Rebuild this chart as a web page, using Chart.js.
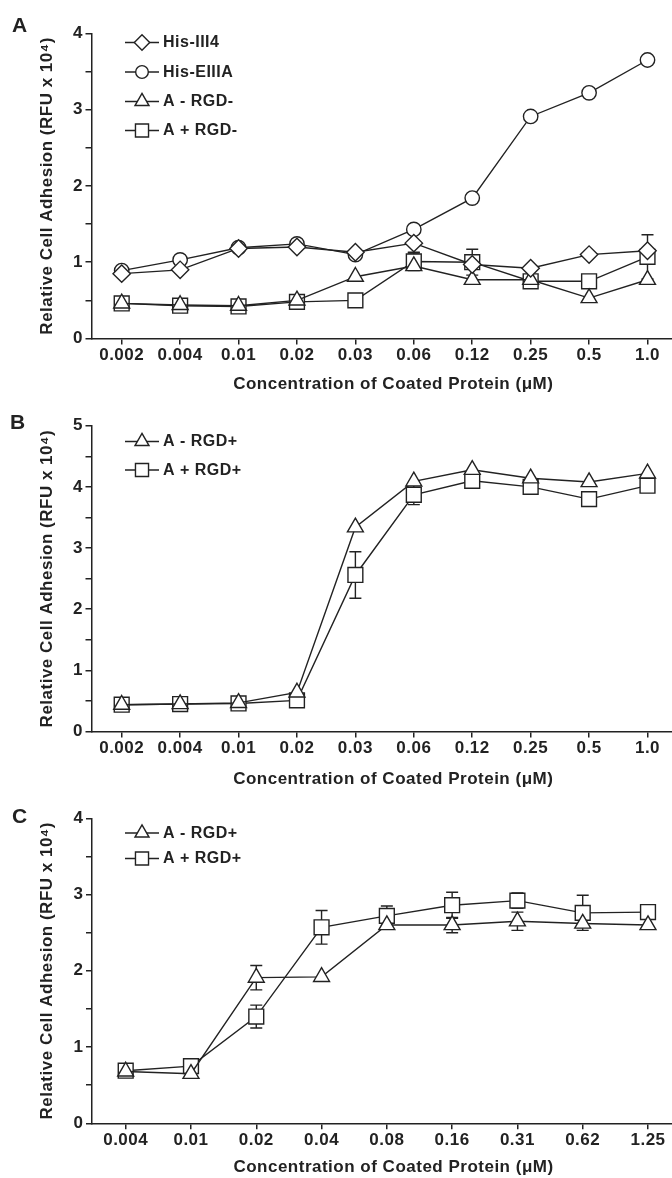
<!DOCTYPE html>
<html><head><meta charset="utf-8">
<script src="https://cdn.jsdelivr.net/npm/chart.js@4/dist/chart.umd.min.js"></script>
<style>
html,body{margin:0;padding:0;background:#fff;width:672px;height:1178px;overflow:hidden;position:relative;}
canvas{position:absolute;left:0;}
</style></head><body>
<canvas id="cA"></canvas><canvas id="cB"></canvas><canvas id="cC"></canvas>
<script>
// ---------- DATA ----------
const catsAB = ['0.002','0.004','0.01','0.02','0.03','0.06','0.12','0.25','0.5','1.0'];
const catsC  = ['0.004','0.01','0.02','0.04','0.08','0.16','0.31','0.62','1.25'];

// Panel A
const hisIII4      = [0.85,0.90,1.18,1.20,1.13,1.25,0.97,0.92,1.10,1.15];
const hisEIIIA     = [0.89,1.03,1.19,1.24,1.10,1.43,1.84,2.91,3.22,3.65];
const aMinusRGDm   = [0.46,0.44,0.43,0.50,0.81,0.95,0.77,0.77,0.53,0.77];
const aPlusRGDm    = [0.46,0.43,0.42,0.48,0.50,1.01,1.00,0.75,0.75,1.07];
const errHisIII4   = [null,null,null,null,null,0.13,null,null,null,null];
const errAPlusRGDm = [null,null,null,null,null,0.12,0.17,null,null,0.29];

// Panel B
const aMinusRGDpB  = [0.44,0.45,0.47,0.64,3.34,4.09,4.28,4.14,4.08,4.22];
const aPlusRGDpB   = [0.44,0.45,0.46,0.51,2.56,3.87,4.10,4.00,3.80,4.02];
const errAPlusB    = [null,null,null,null,0.38,0.16,null,null,null,null];

// Panel C
const aMinusRGDpC  = [0.68,0.65,1.91,1.92,2.60,2.60,2.65,2.62,2.60];
const aPlusRGDpC   = [0.69,0.75,1.40,2.57,2.72,2.86,2.92,2.76,2.77];
const errAMinusC   = [null,null,0.16,null,null,0.10,0.12,null,null];
const errAPlusC    = [null,null,0.15,0.22,0.13,0.17,0.10,0.23,null];

const yTitle = 'Relative Cell Adhesion (RFU x 10\u2074)';
const xTitle = 'Concentration of Coated Protein (\u03BCM)';

// ---------- STYLE / LAYOUT ----------
const FF = '"Liberation Sans", Arial, Helvetica, sans-serif';
const INK = '#222';
const LS = '0.5px';
const CW = 695;   // canvas width (right part is cropped by the page)

const panels = {
  A:{top:0,   height:395, areaTop:33.3,  areaBottom:338.5,  titleY:383,  axisX:91.5, firstTick:121.7, lastTick:647.5, yMax:4, rows:[42.5,72,101.5,130.5], letter:'A', lx:12, ly:31.7},
  B:{top:395, height:395, areaTop:425.7, areaBottom:731.6,  titleY:776,  axisX:91.5, firstTick:121.7, lastTick:647.5, yMax:5, rows:[441.5,470], letter:'B', lx:10, ly:429},
  C:{top:790, height:388, areaTop:818.3, areaBottom:1123.3, titleY:1168, axisX:92,   firstTick:125.7, lastTick:648,   yMax:4, rows:[833,858.5], letter:'C', lx:12, ly:823}
};

const markerR = {circle:7.2, rect:10.5, triangle:9.2, rectRot:8.7};

function pathPoint(ctx, style, x, y, r){
  ctx.beginPath();
  if (style==='circle'){ ctx.arc(x,y,r,0,Math.PI*2); }
  else if (style==='rect'){ const s=Math.SQRT1_2*r; ctx.rect(x-s,y-s,2*s,2*s); }
  else if (style==='rectRot'){ ctx.moveTo(x-r,y); ctx.lineTo(x,y-r); ctx.lineTo(x+r,y); ctx.lineTo(x,y+r); ctx.closePath(); }
  else if (style==='triangle'){ ctx.moveTo(x,y-r); ctx.lineTo(x+0.866*r,y+0.5*r); ctx.lineTo(x-0.866*r,y+0.5*r); ctx.closePath(); }
}

const spacingPlugin = {
  id:'spacing',
  beforeUpdate(chart){ chart.ctx.letterSpacing = LS; },
  beforeDraw(chart){ chart.ctx.letterSpacing = LS; }
};

const errorBarPlugin = {
  id:'errbars',
  beforeDatasetsDraw(chart){
    const ctx = chart.ctx, ys = chart.scales.y;
    ctx.save();
    ctx.strokeStyle = INK; ctx.lineWidth = 1.4;
    chart.data.datasets.forEach((ds,i)=>{
      if(!ds.err) return;
      const meta = chart.getDatasetMeta(i);
      ds.err.forEach((e,j)=>{
        if(e==null) return;
        const v = ds.data[j].y, x = meta.data[j].x;
        const yt = ys.getPixelForValue(v+e), yb = ys.getPixelForValue(v-e);
        ctx.beginPath();
        ctx.moveTo(x,yt); ctx.lineTo(x,yb);
        ctx.moveTo(x-6,yt); ctx.lineTo(x+6,yt);
        ctx.moveTo(x-6,yb); ctx.lineTo(x+6,yb);
        ctx.stroke();
      });
    });
    ctx.restore();
  }
};

const legendPlugin = {
  id:'customLegend',
  afterDraw(chart, args, opts){
    const ctx = chart.ctx, cfg = opts.cfg;
    ctx.save();
    ctx.letterSpacing = LS;
    ctx.fillStyle = INK; ctx.strokeStyle = INK;
    chart.data.datasets.forEach((ds,i)=>{
      const y = cfg.rows[i] - cfg.top;
      ctx.lineWidth = 1.4;
      ctx.beginPath(); ctx.moveTo(125,y); ctx.lineTo(159,y); ctx.stroke();
      pathPoint(ctx, ds.pointStyle, 142, y, ds.pointRadius*0.88);
      ctx.fillStyle = '#fff'; ctx.fill(); ctx.stroke();
      ctx.fillStyle = INK;
      ctx.font = 'bold 16px ' + FF;
      ctx.textBaseline = 'middle'; ctx.textAlign = 'left';
      ctx.fillText(ds.label, 163, y+0.5);
    });
    ctx.font = 'bold 21px ' + FF;
    ctx.textBaseline = 'alphabetic';
    ctx.fillText(cfg.letter, cfg.lx, cfg.ly - cfg.top);
    ctx.restore();
  }
};

function build(id, cfg, labels, series){
  const cv = document.getElementById(id);
  cv.width = CW; cv.height = cfg.height;
  cv.style.width = CW+'px'; cv.style.height = cfg.height+'px';
  cv.style.top = cfg.top + 'px';
  const sp = (cfg.lastTick - cfg.firstTick)/(labels.length-1);
  const xmin = -(cfg.firstTick - cfg.axisX)/sp;
  const xmax = xmin + (CW - cfg.axisX)/sp;
  const datasets = series.map(se=>({
    label: se.label,
    data: se.values.map((v,i)=>({x:i,y:v})),
    err: se.err || null,
    pointStyle: se.style,
    pointRadius: markerR[se.style],
    pointBorderWidth: 1.4,
    pointBackgroundColor:'#fff',
    pointBorderColor: INK,
    borderColor: INK,
    borderWidth: 1.4,
    tension: 0,
    fill: false,
    clip: false
  }));
  const tickFont = {family:FF, size:17, weight:'bold'};
  const titleFont = {family:FF, size:17, weight:'bold'};
  const lh = 17*1.2/2;
  new Chart(cv, {
    type:'line',
    data:{datasets},
    options:{
      responsive:false, animation:false, devicePixelRatio:1,
      events:[],
      layout:{autoPadding:false, padding:{top:cfg.areaTop-cfg.top, left:0, right:0, bottom:0}},
      plugins:{legend:{display:false}, tooltip:{enabled:false}, customLegend:{cfg}},
      scales:{
        x:{
          type:'linear', min:xmin, max:xmax,
          afterBuildTicks: sc=>{ sc.ticks = labels.map((_,i)=>({value:i})); },
          afterFit: sc=>{ sc.height = cfg.top + cfg.height - cfg.areaBottom; sc.paddingLeft = 0; sc.paddingRight = 0; },
          ticks:{callback:(v)=>labels[v]!==undefined?labels[v]:'', font:tickFont, color:INK, padding:1, maxRotation:0, autoSkip:false},
          grid:{drawOnChartArea:false, drawTicks:true, tickLength:6, color:INK, lineWidth:1.5},
          border:{display:true, color:INK, width:1.5},
          title:{display:true, text:xTitle, font:titleFont, color:INK,
                 padding:{top: cfg.top + cfg.height - cfg.titleY - lh, bottom:0}}
        },
        y:{
          type:'linear', min:0, max:cfg.yMax,
          afterBuildTicks: sc=>{ const t=[]; for(let v=0; v<=cfg.yMax+1e-9; v+=0.5) t.push({value:v}); sc.ticks=t; },
          afterFit: sc=>{ sc.width = cfg.axisX; sc.paddingTop = 0; sc.paddingBottom = 0; },
          ticks:{callback:(v)=>Number.isInteger(v)?String(v):'', font:tickFont, color:INK, padding:2.5, autoSkip:false},
          grid:{drawOnChartArea:false, drawTicks:true, tickLength:6, color:INK, lineWidth:1.5},
          border:{display:true, color:INK, width:1.5},
          title:{display:true, text:yTitle, font:titleFont, color:INK, padding:{top:47.5-lh, bottom:0}}
        }
      }
    },
    plugins:[spacingPlugin, errorBarPlugin, legendPlugin]
  });
}

build('cA', panels.A, catsAB, [
  {label:'His-III4',  values:hisIII4,    style:'rectRot', err:errHisIII4},
  {label:'His-EIIIA', values:hisEIIIA,   style:'circle'},
  {label:'A - RGD-',  values:aMinusRGDm, style:'triangle'},
  {label:'A + RGD-',  values:aPlusRGDm,  style:'rect', err:errAPlusRGDm}
]);
build('cB', panels.B, catsAB, [
  {label:'A - RGD+', values:aMinusRGDpB, style:'triangle'},
  {label:'A + RGD+', values:aPlusRGDpB,  style:'rect', err:errAPlusB}
]);
build('cC', panels.C, catsC, [
  {label:'A - RGD+', values:aMinusRGDpC, style:'triangle', err:errAMinusC},
  {label:'A + RGD+', values:aPlusRGDpC,  style:'rect', err:errAPlusC}
]);
</script>
</body></html>
